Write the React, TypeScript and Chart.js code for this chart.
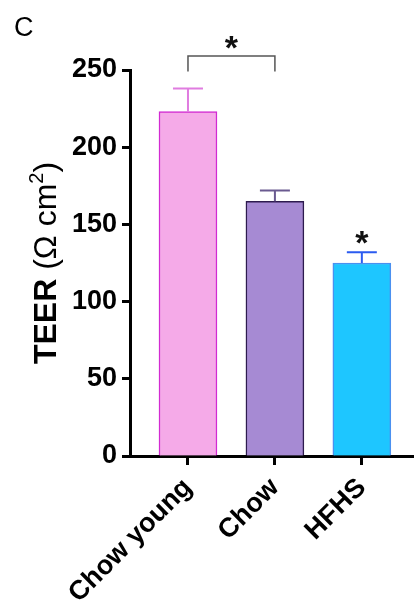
import React, { useEffect, useRef } from "react";
import { Chart, registerables } from "chart.js";

Chart.register(...registerables);

const categories = ["Chow young", "Chow", "HFHS"];
const means = [223, 165, 125];
const errors = [15, 7, 7];
const yTicks = [0, 50, 100, 150, 200, 250];
const fillColors = ["#F5AAE8", "#A68AD3", "#1EC6FF"];
const borderColors = ["#D22AD2", "#2D1B4E", "#4A90F0"];
const errorColors = ["#E07CE0", "#6A5A90", "#2B5BF0"];
// significance brackets: [from, to]; single stars above a group
const brackets = [[0, 1]];
const bracketTop = 259;
const bracketLeg = 249;
const singleStars = [2];

const FONT = "'Liberation Sans', Arial, sans-serif";

const overlay = {
  id: "overlay",
  afterDraw(chart: any) {
    const ctx = chart.ctx;
    const xs = chart.scales.x;
    const ys = chart.scales.y;
    ctx.save();
    // panel letter
    ctx.fillStyle = "#000";
    ctx.font = `27px ${FONT}`;
    ctx.textBaseline = "alphabetic";
    ctx.textAlign = "left";
    ctx.fillText("C", 14, 36);

    // error bars
    means.forEach((m, i) => {
      const x = xs.getPixelForValue(i);
      const y0 = ys.getPixelForValue(m);
      const y1 = ys.getPixelForValue(m + errors[i]);
      ctx.strokeStyle = errorColors[i];
      ctx.lineWidth = 2;
      ctx.beginPath();
      ctx.moveTo(x, y0);
      ctx.lineTo(x, y1);
      ctx.moveTo(x - 15, y1);
      ctx.lineTo(x + 15, y1);
      ctx.stroke();
    });

    const star = (x: number, cy: number) => {
      const size = 34;
      ctx.font = `bold ${size}px ${FONT}`;
      ctx.fillStyle = "#111";
      ctx.textAlign = "center";
      ctx.textBaseline = "alphabetic";
      ctx.fillText("*", x, cy + size * 0.58);
    };

    // brackets
    brackets.forEach(([a, b]) => {
      const xa = xs.getPixelForValue(a);
      const xb = xs.getPixelForValue(b);
      const yt = ys.getPixelForValue(bracketTop);
      const yl = ys.getPixelForValue(bracketLeg);
      ctx.strokeStyle = "#555";
      ctx.lineWidth = 1.5;
      ctx.beginPath();
      ctx.moveTo(xa, yl);
      ctx.lineTo(xa, yt);
      ctx.lineTo(xb, yt);
      ctx.lineTo(xb, yl);
      ctx.stroke();
      star((xa + xb) / 2, yt - 17);
    });
    singleStars.forEach((i) => {
      const x = xs.getPixelForValue(i);
      const y = ys.getPixelForValue(means[i] + errors[i]);
      star(x, y - 18);
    });

    // y title
    const segs: [string, string, number][] = [
      ["TEER ", `bold 32px ${FONT}`, 0],
      ["(\u03A9 cm", `32px ${FONT}`, 0],
      ["2", `20px ${FONT}`, 13],
      [")", `32px ${FONT}`, 0],
    ];
    let total = 0;
    segs.forEach(([t, f]) => {
      ctx.font = f;
      total += ctx.measureText(t).width;
    });
    const cy = (chart.chartArea.top + chart.chartArea.bottom) / 2;
    ctx.translate(56, cy);
    ctx.rotate(-Math.PI / 2);
    let px = -total / 2;
    ctx.fillStyle = "#000";
    ctx.textAlign = "left";
    segs.forEach(([t, f, r]) => {
      ctx.font = f;
      ctx.fillText(t, px, -r);
      px += ctx.measureText(t).width;
    });
    ctx.restore();
  },
};

export default function App() {
  const ref = useRef<HTMLCanvasElement>(null);
  useEffect(() => {
    if (!ref.current) return;
    const chart = new Chart(ref.current, {
      type: "bar",
      data: {
        datasets: [
          {
            data: means.map((v, i) => ({ x: i, y: v })),
            backgroundColor: fillColors,
            borderColor: borderColors,
            borderWidth: 1.5,
            barThickness: 58,
          },
        ],
      },
      options: {
        responsive: false,
        animation: false,
        layout: { padding: { top: 70, left: 0, right: 0, bottom: 0 } },
        plugins: { legend: { display: false }, tooltip: { enabled: false } },
        scales: {
          x: {
            type: "linear",
            min: -0.667,
            max: 2.6,
            offset: false,
            afterBuildTicks: (s: any) => {
              s.ticks = categories.map((_, i) => ({ value: i }));
            },
            afterFit: (s: any) => {
              s.height = 156;
            },
            ticks: {
              autoSkip: false,
              minRotation: 45,
              maxRotation: 45,
              padding: 7,
              color: "#000",
              font: { family: FONT, size: 27, weight: "bold" },
              callback: (v: any) => categories[v],
            },
            grid: {
              offset: false,
              drawOnChartArea: false,
              drawTicks: true,
              tickLength: 9,
              tickWidth: 3,
              color: "#000",
            },
            border: { display: true, color: "#000", width: 3 },
          },
          y: {
            min: 0,
            max: 250,
            afterBuildTicks: (s: any) => {
              s.ticks = yTicks.map((v) => ({ value: v }));
            },
            afterFit: (s: any) => {
              s.width = 130;
            },
            ticks: {
              padding: 5,
              color: "#000",
              font: { family: FONT, size: 27, weight: "bold" },
            },
            grid: {
              drawOnChartArea: false,
              drawTicks: true,
              tickLength: 8,
              tickWidth: 3,
              color: "#000",
            },
            border: { display: true, color: "#000", width: 3 },
          },
        },
      } as any,
      plugins: [overlay],
    });
    return () => chart.destroy();
  }, []);
  return (
    <div style={{ position: "absolute", left: 0, top: 0, width: 414, height: 612, background: "#fff" }}>
      <canvas ref={ref} width={414} height={612} style={{ display: "block" }} />
    </div>
  );
}
